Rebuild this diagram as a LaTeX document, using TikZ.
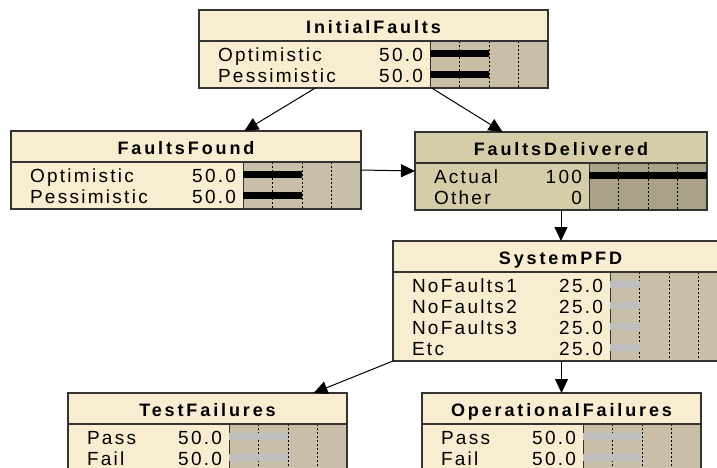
\documentclass[tikz,border=0pt]{standalone}
\usepackage{fontspec}
\setmainfont{Liberation Sans}
\newfontfamily\bodyfont[LetterSpace=12]{Liberation Sans}
\newfontfamily\headfont[LetterSpace=16]{Liberation Sans}
\usetikzlibrary{arrows.meta,calc}
\definecolor{cream}{HTML}{F8EDD0}
\definecolor{tanarea}{HTML}{C9BFA8}
\definecolor{khaki}{HTML}{D5CCA8}
\definecolor{dtanarea}{HTML}{AAA189}
\definecolor{bargray}{HTML}{BFBFBF}
\definecolor{edgecol}{HTML}{333333}
\tikzset{
  arr/.style={draw=black, line width=1pt, -{Triangle[length=14pt,width=13pt]}},
  bodytxt/.style={inner sep=0, outer sep=0, font=\bodyfont\fontsize{19}{21}\selectfont},
  headtxt/.style={inner sep=0, outer sep=0, anchor=base, font=\headfont\bfseries\fontsize{18}{20}\selectfont},
  dots/.style={draw=black, line width=1pt, dash pattern=on 2pt off 2pt},
  frame/.style={draw=edgecol, line width=1.2pt}
}
% #1 name #2 x #3 y #4 w #5 nrows #6 title #7 fill #8 bar-area fill
\newcommand\BNbox[8]{%
  \pgfmathsetmacro\BNh{31+14+21*(#5-1)+12}%
  \pgfmathsetmacro\BNc{#2+#4-118}%
  \node[inner sep=0, outer sep=0, minimum width=#4pt, minimum height=\BNh pt,
        anchor=north west, fill=#7] (#1) at (#2,#3) {};
  \fill[#8] (\BNc,#3+31) rectangle (#2+#4,#3+\BNh);
  \foreach \k in {1,2,3} {\draw[dots] (\BNc+29.5*\k,#3+31) -- (\BNc+29.5*\k,#3+\BNh);}
  \draw[edgecol, line width=0.6pt] (\BNc,#3+31) -- (\BNc,#3+\BNh);
  \draw[frame] (#2,#3) rectangle (#2+#4,#3+\BNh) (#2,#3+31) -- (#2+#4,#3+31);
  \node[headtxt] (#1-title) at (#2+#4/2,#3+23.5) {#6};
}
% #1 name #2 x #3 y #4 w #5 index #6 label #7 value #8 pct #9 bar colour
\newcommand\BNrow[9]{%
  \pgfmathsetmacro\BNy{#3+31+14+21*#5}%
  \pgfmathsetmacro\BNc{#2+#4-118}%
  \node[bodytxt, anchor=base west] (#1-l#5) at (#2+19,\BNy+6.8) {#6};
  \node[bodytxt, anchor=base east] (#1-v#5) at (\BNc-7,\BNy+6.8) {#7};
  \fill[#9] (\BNc,\BNy-5) rectangle (\BNc+1.18*#8,\BNy+2);
}
\begin{document}
\begin{tikzpicture}[x=1pt,y=-1pt]
\useasboundingbox (0,0) rectangle (717,468);
\fill[white] (0,0) rectangle (717,468);
\clip (0,0) rectangle (717,468);

\BNbox{if}{199}{10}{349}{2}{InitialFaults}{cream}{tanarea}
\BNrow{if}{199}{10}{349}{0}{Optimistic}{50.0}{50}{black}
\BNrow{if}{199}{10}{349}{1}{Pessimistic}{50.0}{50}{black}

\BNbox{ff}{11}{131}{350}{2}{FaultsFound}{cream}{tanarea}
\BNrow{ff}{11}{131}{350}{0}{Optimistic}{50.0}{50}{black}
\BNrow{ff}{11}{131}{350}{1}{Pessimistic}{50.0}{50}{black}

\BNbox{fd}{415}{132}{292}{2}{FaultsDelivered}{khaki}{dtanarea}
\BNrow{fd}{415}{132}{292}{0}{Actual}{100}{100}{black}
\BNrow{fd}{415}{132}{292}{1}{Other}{0}{0}{black}

\BNbox{sp}{393}{241}{335}{4}{SystemPFD}{cream}{tanarea}
\BNrow{sp}{393}{241}{335}{0}{NoFaults1}{25.0}{25}{bargray}
\BNrow{sp}{393}{241}{335}{1}{NoFaults2}{25.0}{25}{bargray}
\BNrow{sp}{393}{241}{335}{2}{NoFaults3}{25.0}{25}{bargray}
\BNrow{sp}{393}{241}{335}{3}{Etc}{25.0}{25}{bargray}

\BNbox{tf}{68}{393}{279}{2}{TestFailures}{cream}{tanarea}
\BNrow{tf}{68}{393}{279}{0}{Pass}{50.0}{50}{bargray}
\BNrow{tf}{68}{393}{279}{1}{Fail}{50.0}{50}{bargray}

\BNbox{of}{422}{393}{279}{2}{OperationalFailures}{cream}{tanarea}
\BNrow{of}{422}{393}{279}{0}{Pass}{50.0}{50}{bargray}
\BNrow{of}{422}{393}{279}{1}{Fail}{50.0}{50}{bargray}

\draw[arr] ($(if.south west)!1/3!(if.south east)$) -- ($(ff.north west)!2/3!(ff.north east)$);
\draw[arr] ($(if.south west)!2/3!(if.south east)$) -- ($(fd.north west)!0.3!(fd.north east)$);
\draw[arr] (ff.east) -- (fd.west);
\draw[arr] (fd.south) -- (fd.south |- sp.north);
\draw[arr] (sp.south west) -- ($(tf.north west)!0.88!(tf.north east)$);
\draw[arr] (of.north |- sp.south) -- (of.north);
\end{tikzpicture}
\end{document}
